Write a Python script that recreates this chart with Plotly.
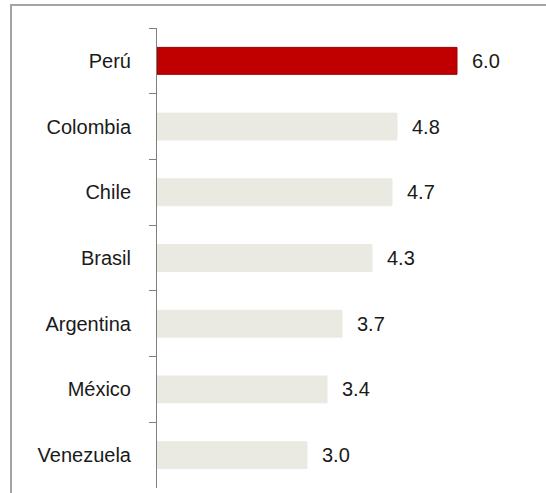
import plotly.graph_objects as go

countries = ["Perú", "Colombia", "Chile", "Brasil", "Argentina", "México", "Venezuela"]
values = [6.0, 4.8, 4.7, 4.3, 3.7, 3.4, 3.0]
value_labels = ["6.0", "4.8", "4.7", "4.3", "3.7", "3.4", "3.0"]

W, H = 546, 493
ML, MR, MT, MB = 157, 4, 28, 5
PW = W - ML - MR
PH = H - MT - MB

FONT = "Liberation Sans, Arial"

bar_colors = ["#c00000" if c == "Perú" else "#ebeae2" for c in countries]
line_colors = ["#9a0000" if c == "Perú" else "#ebeae2" for c in countries]

fig = go.Figure()
fig.add_trace(go.Bar(
    x=values, y=countries, orientation="h",
    marker=dict(color=bar_colors, line=dict(color=line_colors, width=1)),
    width=0.41, hoverinfo="skip",
))

for c, v, t in zip(countries, values, value_labels):
    fig.add_annotation(x=v, y=c, text=t, showarrow=False, xanchor="left",
                       xshift=13, font=dict(family=FONT, size=20, color="#1a1a1a"))

def px_x(p):
    return (p - ML) / PW

def px_y(p):
    return (H - MB - p) / PH

fig.add_shape(type="rect", xref="paper", yref="paper",
              x0=px_x(11), x1=px_x(560), y0=px_y(510), y1=px_y(5),
              line=dict(color="#a4a4a4", width=2), fillcolor="rgba(0,0,0,0)", layer="below")

fig.update_layout(
    width=W, height=H,
    margin=dict(l=ML, r=MR, t=MT, b=MB),
    paper_bgcolor="white", plot_bgcolor="white",
    showlegend=False,
    font=dict(family=FONT, size=20, color="#1a1a1a"),
)
fig.update_xaxes(range=[0, 7.7], visible=False, fixedrange=True)
fig.update_yaxes(
    type="category", categoryorder="array", categoryarray=countries,
    autorange="reversed",
    showline=True, linecolor="#808080", linewidth=1,
    ticks="outside", ticklen=7, tickcolor="#808080", tickwidth=1,
    tickson="boundaries", showgrid=False, zeroline=False,
    ticklabelstandoff=21,
    tickfont=dict(family=FONT, size=20, color="#1a1a1a"),
)

fig.write_html("out.html")
